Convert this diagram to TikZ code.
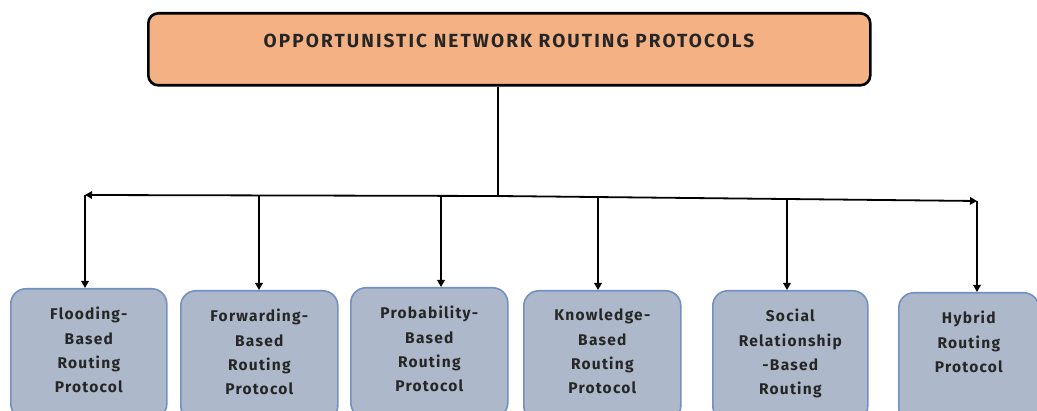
\documentclass[tikz,border=0pt]{standalone}
\usepackage{fontspec}
\setmainfont{Fira Sans}
\usetikzlibrary{arrows.meta}
\definecolor{rootfill}{HTML}{F4B183}
\definecolor{leaffill}{HTML}{ADB9CA}
\definecolor{leafline}{HTML}{7391C0}
\definecolor{ink}{HTML}{262626}
\begin{document}
\begin{tikzpicture}[x=1pt,y=-1pt,
  rootbox/.style={draw=black, line width=2.6pt, fill=rootfill, rounded corners=10pt, inner sep=0pt, anchor=north west},
  roottext/.style={font=\bfseries\fontsize{19}{21}\selectfont\addfontfeature{LetterSpace=11}, text=ink, inner sep=0pt},
  leafbox/.style={draw=leafline, line width=1.6pt, fill=leaffill, rounded corners=15pt, inner sep=0pt, anchor=north west},
  leaftext/.style={align=center, anchor=north, inner sep=0pt, text=ink,
    font=\bfseries\fontsize{15.5}{24.3}\selectfont\addfontfeature{LetterSpace=8}},
  link/.style={line width=1.8pt, draw=black},
  tip/.style={-{Triangle[length=7pt,width=7.5pt]}}
]
\useasboundingbox (0,0) rectangle (1037,411);
\clip (0,0) rectangle (1037,411);

% root of the hierarchy
\node[rootbox, minimum width=722pt, minimum height=72pt] (root) at (147,12) {};
\node[roottext] (rootlabel) at (509,41) {OPPORTUNISTIC NETWORK ROUTING PROTOCOLS};

% protocol families
\node[leafbox, minimum width=156pt, minimum height=130pt] (b1) at (10,288) {};
\node[leafbox, minimum width=157pt, minimum height=130pt] (b2) at (180,290) {};
\node[leafbox, minimum width=157pt, minimum height=130pt] (b3) at (350,287) {};
\node[leafbox, minimum width=157pt, minimum height=130pt] (b4) at (523,290) {};
\node[leafbox, minimum width=155pt, minimum height=130pt] (b5) at (712,290) {};
\node[leafbox, minimum width=140pt, minimum height=130pt] (b6) at (898,292) {};

\node[leaftext] (t1) at ([yshift=-19pt]b1.north) {Flooding-\\Based\\Routing\\Protocol};
\node[leaftext] (t2) at ([yshift=-19pt]b2.north) {Forwarding-\\Based\\Routing\\Protocol};
\node[leaftext] (t3) at ([yshift=-19pt]b3.north) {Probability-\\Based\\Routing\\Protocol};
\node[leaftext] (t4) at ([yshift=-19pt]b4.north) {Knowledge-\\Based\\Routing\\Protocol};
\node[leaftext] (t5) at ([yshift=-19pt]b5.north) {Social\\Relationship\\-Based\\Routing};
\node[leaftext] (t6) at ([yshift=-19pt]b6.north) {Hybrid\\Routing\\Protocol};

% distribution bus
\coordinate (j)  at (498,196);
\coordinate (a1) at (85,195);
\coordinate (a2) at (259,195.5);
\coordinate (a3) at (441,196);
\coordinate (a4) at (598,197);
\coordinate (a5) at (787,199);
\coordinate (a6) at (977,201);

\draw[link] (j |- root.south) -- (j);
\draw[link, tip] (j) -- (a1);
\draw[link, tip] (j) -- (a6);

\draw[link, tip] (a1) -- (a1 |- b1.north);
\draw[link, tip] (a2) -- (a2 |- b2.north);
\draw[link, tip] (a3) -- (a3 |- b3.north);
\draw[link, tip] (a4) -- (a4 |- b4.north);
\draw[link, tip] (a5) -- (a5 |- b5.north);
\draw[link, tip] (a6) -- (a6 |- b6.north);
\end{tikzpicture}
\end{document}
